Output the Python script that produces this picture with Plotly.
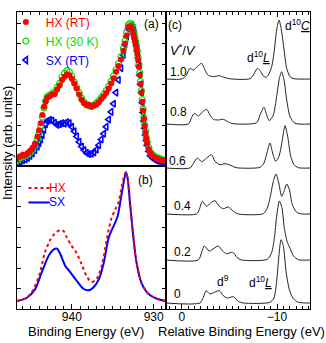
import plotly.graph_objects as go

# (a) measured Cu 2p3/2 spectra, binding energy grid (eV)
be_meas = [946.6, 946.3, 946.0, 945.7, 945.4, 945.1, 944.8, 944.5, 944.2, 944.0,
           943.8, 943.6, 943.4, 943.2, 943.0, 942.7, 942.4, 942.1, 941.8, 941.5,
           941.2, 940.9, 940.6, 940.3, 940.0, 939.7, 939.4, 939.1, 938.8, 938.5,
           938.2, 937.9, 937.6, 937.3, 937.0, 936.7, 936.4, 936.1, 935.8, 935.5,
           935.2, 934.9, 934.6, 934.3, 934.0, 933.7, 933.5, 933.3, 933.1, 932.9,
           932.7, 932.5, 932.4, 932.3, 932.2, 932.1, 932.0, 931.9, 931.8, 931.7,
           931.6, 931.5, 931.4, 931.3, 931.2, 931.1, 931.0, 930.9, 930.8, 930.6,
           930.4, 930.1, 929.8, 929.5, 929.2, 928.9, 928.6]
hx_rt = [0.42, 0.48, 0.55, 0.52, 0.64, 0.75, 0.90, 1.10, 1.45, 1.75,
         2.10, 2.50, 2.90, 3.15, 3.35, 3.42, 3.50, 3.52, 3.75, 3.95,
         4.22, 4.38, 4.50, 4.45, 4.28, 4.05, 3.80, 3.50, 3.25, 3.08,
         2.98, 3.00, 2.90, 2.96, 3.02, 3.12, 3.28, 3.42, 3.58, 3.80,
         4.05, 4.30, 4.62, 4.90, 5.22, 5.65, 6.00, 6.40, 6.82, 6.85,
         6.72, 6.48, 6.30, 6.12, 5.95, 5.72, 5.48, 5.18, 4.85, 4.45,
         4.02, 3.58, 3.15, 2.72, 2.30, 1.95, 1.62, 1.35, 1.12, 0.82,
         0.62, 0.48, 0.40, 0.35, 0.30, 0.28, 0.26]
hx_30k = [0.30, 0.40, 0.45, 0.50, 0.58, 0.66, 0.80, 0.98, 1.30, 1.60,
          1.95, 2.40, 2.85, 3.20, 3.40, 3.48, 3.55, 3.62, 3.85, 4.05,
          4.35, 4.55, 4.68, 4.60, 4.40, 4.12, 3.85, 3.58, 3.32, 3.12,
          3.02, 2.95, 2.92, 2.98, 3.08, 3.20, 3.35, 3.52, 3.70, 3.90,
          4.15, 4.42, 4.72, 5.02, 5.35, 5.78, 6.12, 6.55, 6.92, 6.98,
          6.88, 6.62, 6.45, 6.28, 6.10, 5.88, 5.62, 5.32, 4.98, 4.58,
          4.15, 3.70, 3.25, 2.80, 2.38, 2.02, 1.70, 1.42, 1.20, 0.90,
          0.68, 0.55, 0.45, 0.40, 0.35, 0.30, 0.28]
sx_rt = [0.15, 0.22, 0.28, 0.32, 0.40, 0.50, 0.62, 0.78, 0.95, 1.12,
         1.30, 1.52, 1.78, 2.05, 2.20, 2.26, 2.22, 2.12, 2.02, 2.05,
         2.10, 2.08, 2.15, 2.10, 1.92, 1.70, 1.45, 1.18, 0.95, 0.78,
         0.64, 0.58, 0.60, 0.66, 0.80, 1.02, 1.30, 1.58, 1.92, 2.28,
         2.65, 3.05, 3.60, 4.22, 4.80, 5.45, 5.95, 6.35, 6.72, 6.85,
         6.92, 6.78, 6.62, 6.45, 6.20, 5.92, 5.62, 5.30, 4.90, 4.45,
         4.00, 3.60, 3.10, 2.62, 2.20, 1.85, 1.52, 1.25, 1.02, 0.72,
         0.50, 0.38, 0.30, 0.25, 0.22, 0.20, 0.18]

# (b) calculated spectra
be_hx = [946.7, 945.5, 944.7, 943.9, 943.3, 942.6, 942.0, 941.4, 941.0, 940.6,
         940.0, 939.4, 938.8, 938.2, 937.6, 937.0, 936.3, 935.7, 935.2, 934.7,
         934.3, 933.9, 933.6, 933.4, 933.2, 932.9, 932.5, 932.1, 931.5, 930.6,
         929.6, 928.5]
calc_hx = [0.39, 0.55, 0.96, 1.77, 2.75, 3.40, 3.72, 3.85, 3.80, 3.48,
           3.07, 2.72, 2.18, 1.61, 1.32, 1.45, 2.18, 3.48, 4.38, 4.86,
           5.19, 6.00, 6.49, 6.68, 6.41, 5.19, 3.56, 2.26, 1.28, 0.72,
           0.50, 0.39]
be_sx = [946.7, 945.5, 944.5, 943.7, 942.8, 942.2, 941.8, 941.4, 940.8, 940.2,
         939.4, 938.6, 938.0, 937.4, 936.7, 936.1, 935.5, 934.9, 934.4, 933.9,
         933.6, 933.4, 933.2, 932.9, 932.5, 932.1, 931.5, 930.6, 929.6, 928.5]
calc_sx = [0.39, 0.55, 0.96, 1.77, 2.62, 2.91, 2.94, 2.67, 2.10, 1.80,
           1.37, 0.99, 0.91, 1.04, 1.45, 2.26, 3.48, 4.05, 4.54, 5.67,
           6.33, 6.68, 6.41, 5.19, 3.56, 2.26, 1.28, 0.72, 0.50, 0.39]

# (c) cluster calculation vs V*/V, relative binding energy (eV) and height
ratios = ["1.0", "0.8", "0.6", "0.4", "0.2", "0"]
baselines = [230, 185, 141, 95, 49, 6]
e_c = [
    [1.7, 0.03, -0.42, -0.84, -1.19, -1.61, -2.07, -2.42, -2.77, -3.3,
     -3.93, -4.53, -5.23, -7.16, -7.58, -7.93, -8.28, -8.56, -8.84, -9.09,
     -9.44, -9.72, -9.96, -10.21, -10.46, -10.74, -11.02, -11.37, -11.8, -13.5],
    [1.7, -0.67, -1.02, -1.3, -1.72, -2.18, -2.6, -2.95, -3.3, -3.82,
     -4.35, -4.88, -5.4, -7.86, -8.21, -8.63, -8.91, -9.19, -9.61, -9.96,
     -10.25, -10.49, -10.74, -11.02, -11.37, -11.89, -13.5],
    [1.7, -0.84, -1.19, -1.61, -2.07, -2.6, -3.12, -3.47, -4.0, -4.53,
     -5.05, -5.58, -6.0, -8.21, -8.63, -8.98, -9.26, -9.54, -9.86, -10.21,
     -10.56, -10.84, -11.12, -11.44, -11.79, -12.25, -13.5],
    [1.7, -1.54, -1.82, -2.14, -2.6, -3.02, -3.47, -3.93, -4.35, -4.88,
     -5.4, -5.93, -8.56, -8.98, -9.33, -9.61, -9.89, -10.18, -10.49, -10.74,
     -11.02, -11.3, -11.61, -12.07, -12.6, -13.5],
    [1.7, -1.72, -2.07, -2.35, -2.87, -3.37, -3.82, -4.28, -4.7, -5.33,
     -5.82, -6.28, -8.98, -9.44, -9.72, -9.96, -10.25, -10.53, -10.77, -11.09,
     -11.37, -11.72, -12.25, -13.5],
    [1.7, -1.89, -2.25, -2.53, -2.95, -3.47, -3.93, -4.35, -4.77, -5.4,
     -5.93, -6.46, -9.26, -9.68, -9.96, -10.21, -10.42, -10.67, -10.95, -11.3,
     -11.72, -12.25, -13.5],
]
h_c = [
    [0, 0, 3, 10.7, 9, 12.3, 15.7, 9, 3.7, 2.3,
     3.3, 1.3, 0, 0.3, 5, 10.7, 7.3, 3, 1.7, 4,
     12.3, 29, 49, 59, 49, 29, 10.7, 2.3, 0.3, 0],
    [0, 0, 6.7, 10.7, 8, 12.3, 14.7, 9, 4.7, 4,
     4.7, 2, 0.3, 1.3, 9, 16.7, 9, 3.3, 9, 27.3,
     45.7, 52.3, 44, 24, 7.3, 0.7, 0],
    [0, 0, 4.3, 10, 6.3, 10, 13.3, 6.7, 3.3, 4.3,
     3, 0.7, 0, 0.7, 5, 16.7, 25, 15, 6.7, 11.7,
     28.3, 42.3, 31.7, 11.7, 3.3, 0.3, 0],
    [0, 0, 4.3, 12.7, 7.7, 11, 13.3, 7.7, 5.3, 7,
     2.7, 0, 0.3, 6, 19.3, 32.7, 40, 31, 17.7, 22.7,
     30, 24.3, 9.3, 1.7, 0, 0],
    [0, 0, 7.7, 14, 9, 11.7, 14, 9, 6.3, 7.7,
     2.3, 0, 0.7, 7.7, 21.7, 43.3, 59, 51.7, 31.7, 17.7,
     11.7, 4.3, 0.3, 0],
    [0, 0, 5.7, 12.3, 9, 11, 12.3, 7.3, 5, 6.3,
     1.7, 0, 0.7, 5, 21.7, 48.3, 63.3, 56.7, 31.7, 13.3,
     4.3, 0.7, 0],
]

for s in (hx_rt, hx_30k, sx_rt):
    assert len(s) == len(be_meas)
assert len(be_hx) == len(calc_hx) and len(be_sx) == len(calc_sx)
for e, h in zip(e_c, h_c):
    assert len(e) == len(h)

RED = "#ff0000"
GREEN = "#00dd00"
BLUE = "#0000ff"
FONT = "Liberation Sans, Arial, sans-serif"

fig = go.Figure()

# (a) drawn blue -> green -> red so red sits on top
fig.add_trace(go.Scatter(
    x=be_meas, y=sx_rt, mode="markers", xaxis="x", yaxis="y",
    name='<span style="color:%s">SX (RT)</span>' % BLUE,
    marker=dict(symbol="triangle-left-open", size=6, color=BLUE, line=dict(width=1.6)),
))
fig.add_trace(go.Scatter(
    x=be_meas, y=hx_30k, mode="markers", xaxis="x", yaxis="y",
    name='<span style="color:%s">HX (30 K)</span>' % GREEN,
    marker=dict(symbol="circle-open", size=6, color=GREEN, line=dict(width=1.2)),
))
fig.add_trace(go.Scatter(
    x=be_meas, y=hx_rt, mode="markers", xaxis="x", yaxis="y",
    name='<span style="color:%s">HX (RT)</span>' % RED,
    marker=dict(symbol="circle", size=6, color=RED),
))

# (b)
fig.add_trace(go.Scatter(
    x=be_sx, y=calc_sx, mode="lines", xaxis="x2", yaxis="y2", showlegend=False,
    line=dict(color=BLUE, width=2, shape="spline", smoothing=0.8),
))
fig.add_trace(go.Scatter(
    x=be_hx, y=calc_hx, mode="lines", xaxis="x2", yaxis="y2", showlegend=False,
    line=dict(color=RED, width=2, dash="dot", shape="spline", smoothing=0.8),
))

# (c) stacked curves
for base, e, h in zip(baselines, e_c, h_c):
    fig.add_trace(go.Scatter(
        x=e, y=[base + v for v in h], mode="lines", xaxis="x3", yaxis="y3",
        showlegend=False,
        line=dict(color="#222222", width=1, shape="spline", smoothing=0.7),
    ))

frame = dict(showline=True, linecolor="black", linewidth=1, showgrid=False,
             zeroline=False, ticks="inside", tickcolor="black")
left_x = dict(frame, range=[946.7, 928.5], tick0=930, dtick=10, ticklen=5,
              minor=dict(dtick=1, ticklen=3, ticks="inside", tickcolor="black"),
              domain=[0, 0.5085])
left_y = dict(frame, dtick=1, ticklen=4, mirror="ticks", showticklabels=False)

fig.update_layout(
    width=326, height=343, autosize=False,
    margin=dict(l=17, r=16, t=12, b=34, autoexpand=False),
    paper_bgcolor="white", plot_bgcolor="white",
    font=dict(family=FONT, size=12, color="black"),
    xaxis=dict(left_x, anchor="y", side="top", mirror=True, showticklabels=False),
    yaxis=dict(left_y, anchor="x", domain=[0.4815, 1], range=[0, 7.55]),
    xaxis2=dict(left_x, anchor="y2", mirror=True, ticklabelstandoff=-3),
    yaxis2=dict(left_y, anchor="x2", domain=[0, 0.4815], range=[0, 6.98]),
    xaxis3=dict(frame, anchor="y3", domain=[0.5085, 1], range=[1.68, -13.47],
                tick0=0, dtick=10, ticklen=5, mirror="ticks", ticklabelstandoff=-3,
                minor=dict(dtick=10 / 15, ticklen=3, ticks="inside", tickcolor="black")),
    yaxis3=dict(showline=True, linecolor="black", linewidth=1, mirror=True,
                showgrid=False, zeroline=False, ticks="", showticklabels=False,
                anchor="x3", domain=[0, 1], range=[0, 297]),
    legend=dict(x=-0.038, y=1.015, xanchor="left", yanchor="top",
                bgcolor="rgba(0,0,0,0)", traceorder="reversed",
                font=dict(size=12), itemwidth=30),
)

ann = []
# axis titles
ann.append(dict(text="Intensity (arb. units)", xref="paper", yref="paper",
                x=-0.031, y=0.559, textangle=-90, showarrow=False,
                font=dict(size=13), xanchor="center", yanchor="middle"))
ann.append(dict(text="Binding Energy (eV)", xref="paper", yref="paper",
                x=0.236, y=-0.076, showarrow=False, font=dict(size=13),
                xanchor="center", yanchor="middle"))
ann.append(dict(text="Relative Binding Energy (eV)", xref="paper", yref="paper",
                x=0.766, y=-0.076, showarrow=False, font=dict(size=13),
                xanchor="center", yanchor="middle"))
# panel labels
ann.append(dict(text="(a)", xref="x", yref="y", x=930.3, y=6.95, showarrow=False))
ann.append(dict(text="(b)", xref="x2", yref="y2", x=931.0, y=6.3, showarrow=False))
ann.append(dict(text="(c)", xref="x3", yref="y3", x=0.74, y=284, showarrow=False))
# legend of (b)
ann.append(dict(text="HX", font=dict(color=RED), xref="x2", yref="y2",
                x=943.0, y=5.9, xanchor="left", showarrow=False))
ann.append(dict(text="SX", font=dict(color=BLUE), xref="x2", yref="y2",
                x=943.0, y=5.2, xanchor="left", showarrow=False))
# (c) labels
ann.append(dict(text="<i>V</i><sup>*</sup>/<i>V</i>", xref="x3", yref="y3",
                x=1.45, y=259, xanchor="left", showarrow=False, font=dict(size=13)))
ratio_y = [237, 197, 148, 103.5, 57.5, 15]
ratio_x = [1.44, 1.5, 1.55, 1.1, 1.1, 1.1]
for r, xx, yy in zip(ratios, ratio_x, ratio_y):
    ann.append(dict(text=r, xref="x3", yref="y3", x=xx, y=yy,
                    xanchor="left", showarrow=False))
ann.append(dict(text="d<sup>10</sup><i><u>C</u></i>", xref="x3", yref="y3",
                x=-10.6, y=284, xanchor="left", showarrow=False))
ann.append(dict(text="d<sup>10</sup><i><u>L</u></i>", xref="x3", yref="y3",
                x=-6.63, y=252, xanchor="left", showarrow=False))
ann.append(dict(text="d<sup>9</sup>", xref="x3", yref="y3",
                x=-3.47, y=28, xanchor="left", showarrow=False))
ann.append(dict(text="d<sup>10</sup><i><u>L</u></i>", xref="x3", yref="y3",
                x=-6.81, y=27, xanchor="left", showarrow=False))
fig.update_layout(annotations=ann)

# legend samples of (b)
fig.add_shape(type="line", xref="x2", yref="y2", x0=945.3, x1=942.7, y0=5.9, y1=5.9,
              line=dict(color=RED, width=2, dash="dot"))
fig.add_shape(type="line", xref="x2", yref="y2", x0=945.3, x1=942.7, y0=5.2, y1=5.2,
              line=dict(color=BLUE, width=2))

# the page body has an 8px default margin; drop it so the figure fills the window
fig.write_html("out.html", config={"displayModeBar": False},
               post_script="document.body.style.margin = '0px';")
